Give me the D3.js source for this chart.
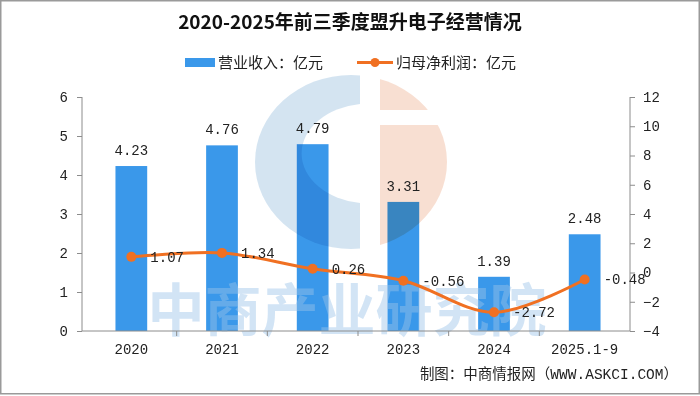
<!DOCTYPE html>
<html>
<head>
<meta charset="utf-8">
<script src="https://cdn.jsdelivr.net/npm/d3@7"></script>
<style>
  body { margin: 0; background: #fff; }
  svg { display: block; }
</style>
</head>
<body>
<svg id="chart" width="700" height="396"></svg>
<script>
// chart data
const categories = ['2020', '2021', '2022', '2023', '2024', '2025.1-9'];
const revenue = [4.23, 4.76, 4.79, 3.31, 1.39, 2.48];
const netProfit = [1.07, 1.34, 0.26, -0.56, -2.72, -0.48];
const leftTicks = [0, 1, 2, 3, 4, 5, 6];
const rightTicks = [-4, -2, 0, 2, 4, 6, 8, 10, 12];

const cjk = '"Noto Sans CJK SC", sans-serif';
const mono = '"Liberation Mono", "Noto Sans CJK SC", monospace';
const barColor = '#3a98ea';
const lineColor = '#f07022';
const axisColor = '#8c8c8c';

const svg = d3.select('#chart');

// plot area
const plotTop = 97, plotBottom = 331, plotLeft = 82, plotRight = 630;

const x = d3.scaleBand().domain(categories).range([86, plotRight]).padding(0);
const yL = d3.scaleLinear().domain([0, 6]).range([plotBottom, plotTop]);
const yR = d3.scaleLinear().domain([-4, 12]).range([plotBottom, plotTop]);
const cx = d => x(d) + x.bandwidth() / 2;
const barW = x.bandwidth() * 0.35;

// outer border
svg.append('rect')
    .attr('x', 0.75).attr('y', 0.75)
    .attr('width', 698.5).attr('height', 393)
    .attr('fill', '#fff')
    .attr('stroke', '#9a9a9a')
    .attr('stroke-width', 1.5);

// title
svg.append('text')
    .attr('x', 350).attr('y', 29)
    .attr('text-anchor', 'middle')
    .style('font-family', cjk)
    .style('font-weight', 'bold')
    .style('font-size', '19px')
    .attr('fill', '#111')
    .text('2020-2025年前三季度盟升电子经营情况');

// legend
const legend = svg.append('g').style('font-family', cjk).style('font-size', '15px');
legend.append('rect').attr('x', 185).attr('y', 58).attr('width', 30).attr('height', 9).attr('fill', barColor);
legend.append('text').attr('x', 218).attr('y', 68).attr('fill', '#222').text('营业收入：亿元');
legend.append('line').attr('x1', 357).attr('x2', 393).attr('y1', 62.5).attr('y2', 62.5)
    .attr('stroke', lineColor).attr('stroke-width', 3);
legend.append('circle').attr('cx', 375).attr('cy', 62.5).attr('r', 4.5).attr('fill', lineColor);
legend.append('text').attr('x', 396).attr('y', 68).attr('fill', '#222').text('归母净利润：亿元');

// bars
svg.selectAll('.bar')
    .data(categories)
    .enter()
    .append('rect')
    .attr('class', 'bar')
    .attr('x', d => cx(d) - barW / 2)
    .attr('y', (d, i) => yL(revenue[i]))
    .attr('width', barW)
    .attr('height', (d, i) => yL(0) - yL(revenue[i]))
    .attr('fill', barColor);

// watermark logo (blended over bars)
const defs = svg.append('defs');
const mask = defs.append('mask').attr('id', 'logoMask');
mask.append('rect').attr('width', 700).attr('height', 396).attr('fill', '#000');
mask.append('ellipse').attr('cx', 351).attr('cy', 162).attr('rx', 96).attr('ry', 87).attr('fill', '#fff');
mask.append('rect').attr('x', 360).attr('y', 60).attr('width', 20).attr('height', 200).attr('fill', '#000');
mask.append('path').attr('d', 'M360,104 A68,50 0 0 0 360,203 Z').attr('fill', '#000');
mask.append('rect').attr('x', 380).attr('y', 110).attr('width', 80).attr('height', 15).attr('fill', '#000');

const logo = svg.append('g').attr('mask', 'url(#logoMask)').style('mix-blend-mode', 'multiply');
logo.append('rect').attr('x', 250).attr('y', 60).attr('width', 110).attr('height', 200).attr('fill', '#d4e4f1');
logo.append('rect').attr('x', 380).attr('y', 60).attr('width', 80).attr('height', 200).attr('fill', '#f8dfd2');

svg.append('text')
    .attr('x', 347).attr('y', 331)
    .attr('text-anchor', 'middle')
    .style('font-family', cjk)
    .style('font-weight', 'bold')
    .style('font-size', '57px')
    .attr('fill', '#9cc4e8')
    .attr('fill-opacity', 0.45)
    .text('中商产业研究院');

// left and right axes
const leftAxis = svg.append('g')
    .attr('transform', `translate(${plotLeft},0)`)
    .call(d3.axisLeft(yL).tickValues(leftTicks).tickSize(5).tickPadding(9).tickFormat(d3.format('d')));

const rightAxis = svg.append('g')
    .attr('transform', `translate(${plotRight},0)`)
    .call(d3.axisRight(yR).tickValues(rightTicks).tickSize(5).tickPadding(8).tickFormat(d3.format('d')));

[leftAxis, rightAxis].forEach(g => {
    g.select('.domain').remove();
    g.selectAll('.tick line').attr('stroke', axisColor);
    g.selectAll('.tick text')
        .style('font-family', mono)
        .style('font-size', '14px')
        .attr('fill', '#222');
});
svg.append('line').attr('x1', plotLeft).attr('x2', plotLeft).attr('y1', plotTop).attr('y2', plotBottom).attr('stroke', axisColor);
svg.append('line').attr('x1', plotRight).attr('x2', plotRight).attr('y1', plotTop).attr('y2', plotBottom).attr('stroke', axisColor);

// bottom axis: labels at band centres, tick marks at band edges
const xAxis = svg.append('g')
    .attr('transform', `translate(0,${plotBottom})`)
    .call(d3.axisBottom(x).tickSize(0).tickPadding(13));
xAxis.select('.domain').remove();
xAxis.selectAll('.tick text')
    .style('font-family', mono)
    .style('font-size', '14px')
    .attr('fill', '#222');
svg.append('line').attr('x1', plotLeft).attr('x2', plotRight).attr('y1', plotBottom).attr('y2', plotBottom).attr('stroke', axisColor);
svg.selectAll('.xtick')
    .data(categories.slice(1))
    .enter()
    .append('line')
    .attr('class', 'xtick')
    .attr('x1', d => x(d)).attr('x2', d => x(d))
    .attr('y1', plotBottom).attr('y2', plotBottom + 5)
    .attr('stroke', axisColor);

// bar value labels
svg.selectAll('.bar-label')
    .data(categories)
    .enter()
    .append('text')
    .attr('class', 'bar-label')
    .attr('x', d => cx(d))
    .attr('y', (d, i) => yL(revenue[i]) - 11)
    .attr('text-anchor', 'middle')
    .style('font-family', mono)
    .style('font-size', '14px')
    .attr('fill', '#222')
    .text((d, i) => revenue[i].toFixed(2));

// profit line
const line = d3.line()
    .x(d => cx(d))
    .y((d, i) => yR(netProfit[i]))
    .curve(d3.curveCatmullRom);

svg.append('path')
    .datum(categories)
    .attr('d', line)
    .attr('fill', 'none')
    .attr('stroke', lineColor)
    .attr('stroke-width', 3);

svg.selectAll('.dot')
    .data(categories)
    .enter()
    .append('circle')
    .attr('class', 'dot')
    .attr('cx', d => cx(d))
    .attr('cy', (d, i) => yR(netProfit[i]))
    .attr('r', 5)
    .attr('fill', lineColor);

svg.selectAll('.line-label')
    .data(categories)
    .enter()
    .append('text')
    .attr('class', 'line-label')
    .attr('x', d => cx(d) + 19)
    .attr('y', (d, i) => yR(netProfit[i]))
    .attr('dy', '0.35em')
    .style('font-family', mono)
    .style('font-size', '14px')
    .attr('fill', '#222')
    .text((d, i) => netProfit[i].toFixed(2));

// source note
svg.append('text')
    .attr('x', 678).attr('y', 379)
    .attr('text-anchor', 'end')
    .style('font-family', mono)
    .style('font-size', '14.5px')
    .attr('fill', '#222')
    .text('制图：中商情报网（WWW.ASKCI.COM）');
</script>
</body>
</html>
